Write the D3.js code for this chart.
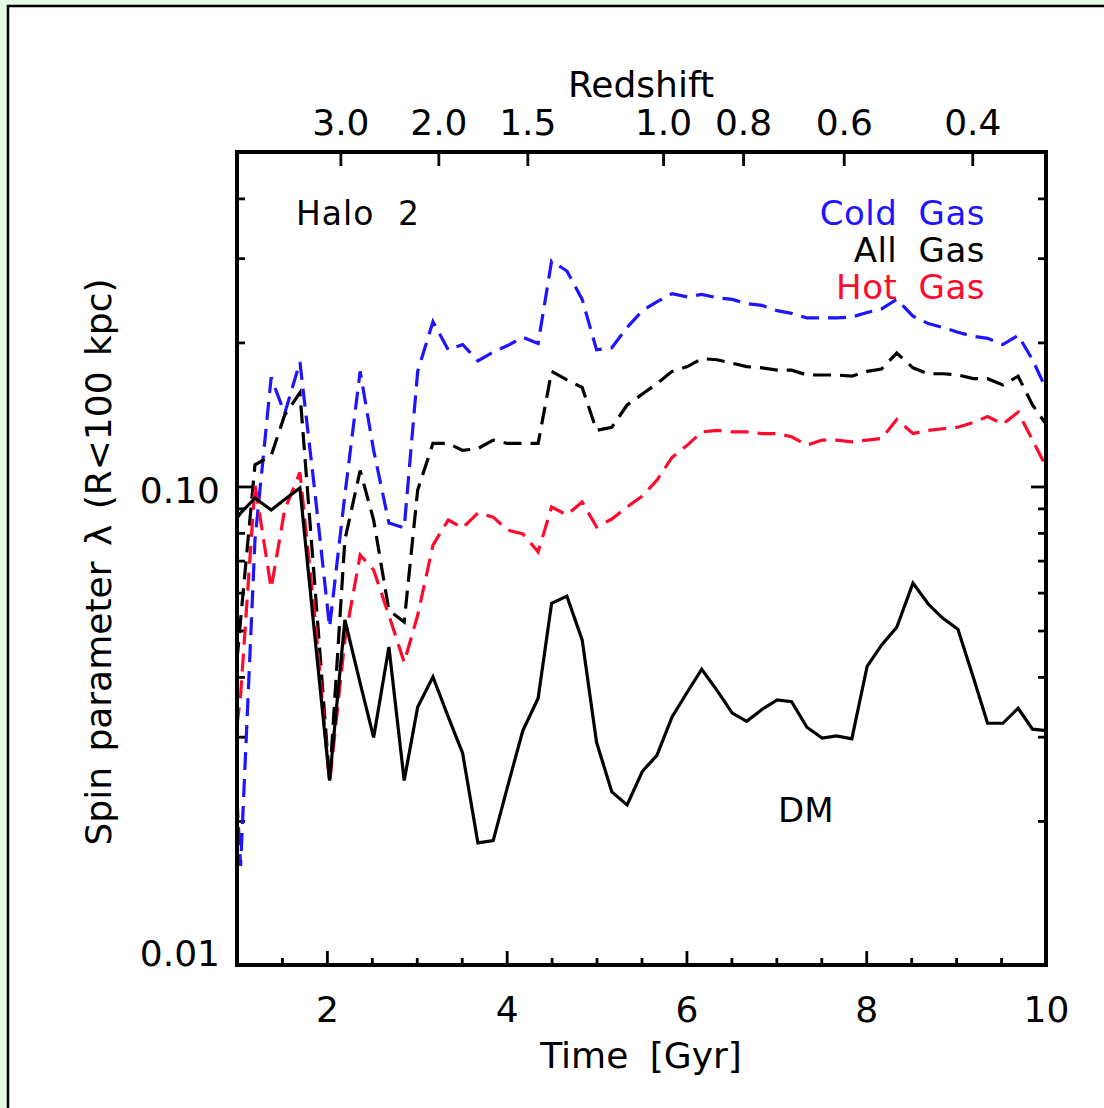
<!DOCTYPE html>
<html>
<head>
<meta charset="utf-8">
<script src="https://cdn.jsdelivr.net/npm/d3@7"></script>
<style>
  body { margin: 0; background: #e4fae4; }
  svg { display: block; font-family: "DejaVu Sans", sans-serif; }
</style>
</head>
<body>
<div id="chart"></div>
<script>
// snapshot times (Gyr) and spin parameter of each component
const times = [1.00, 1.04, 1.20, 1.38, 1.53, 1.70, 1.87, 2.03, 2.20, 2.37, 2.52, 2.69, 2.86, 3.01,
  3.18, 3.35, 3.51, 3.68, 3.85, 4.01, 4.18, 4.35, 4.50, 4.67, 4.84, 5.00, 5.17, 5.34, 5.51, 5.67,
  5.84, 6.01, 6.17, 6.34, 6.51, 6.67, 6.84, 7.01, 7.17, 7.34, 7.51, 7.67, 7.84, 8.01, 8.17, 8.34,
  8.52, 8.69, 8.85, 9.02, 9.19, 9.35, 9.52, 9.69, 9.85, 10.0];

const coldGas = [0.0221, 0.0161, 0.0773, 0.169, 0.142, 0.182, 0.0960, 0.0508, 0.0960, 0.174, 0.119,
  0.0839, 0.0819, 0.174, 0.221, 0.193, 0.198, 0.183, 0.191, 0.197, 0.205, 0.199, 0.296, 0.282, 0.246,
  0.193, 0.195, 0.215, 0.233, 0.243, 0.253, 0.249, 0.252, 0.248, 0.246, 0.241, 0.239, 0.233, 0.230,
  0.225, 0.225, 0.225, 0.226, 0.231, 0.235, 0.246, 0.227, 0.219, 0.215, 0.210, 0.206, 0.204, 0.198,
  0.207, 0.184, 0.160];

const allGas = [0.0434, 0.0526, 0.111, 0.116, 0.141, 0.157, 0.0608, 0.0243, 0.0773, 0.108, 0.0851,
  0.0551, 0.0521, 0.0983, 0.123, 0.123, 0.119, 0.120, 0.125, 0.123, 0.123, 0.123, 0.174, 0.167, 0.161,
  0.131, 0.133, 0.148, 0.156, 0.164, 0.174, 0.178, 0.185, 0.184, 0.181, 0.178, 0.177, 0.175, 0.175,
  0.171, 0.171, 0.171, 0.170, 0.174, 0.176, 0.190, 0.177, 0.172, 0.172, 0.171, 0.168, 0.168, 0.163,
  0.170, 0.148, 0.135];

const hotGas = [0.0317, 0.0366, 0.101, 0.0613, 0.0893, 0.107, 0.0526, 0.0240, 0.0478, 0.0719, 0.0669,
  0.0538, 0.0429, 0.0538, 0.0754, 0.0851, 0.0819, 0.0880, 0.0863, 0.0811, 0.0796, 0.0730, 0.0906,
  0.0872, 0.0928, 0.0823, 0.0855, 0.0906, 0.0955, 0.103, 0.115, 0.122, 0.130, 0.131, 0.130, 0.130,
  0.129, 0.129, 0.127, 0.122, 0.125, 0.125, 0.124, 0.125, 0.126, 0.138, 0.129, 0.131, 0.132, 0.133,
  0.136, 0.140, 0.135, 0.143, 0.125, 0.110];

const darkMatter = [0.0859, 0.0880, 0.0946, 0.0893, 0.0939, 0.0993, 0.0478, 0.0243, 0.0526, 0.0388,
  0.0299, 0.0462, 0.0243, 0.0346, 0.0400, 0.0330, 0.0277, 0.0180, 0.0182, 0.0236, 0.0309, 0.0361,
  0.0570, 0.0590, 0.0478, 0.0292, 0.0230, 0.0216, 0.0254, 0.0274, 0.0330, 0.0372, 0.0415, 0.0375,
  0.0336, 0.0323, 0.0342, 0.0358, 0.0355, 0.0314, 0.0298, 0.0301, 0.0297, 0.0421, 0.0466, 0.0508,
  0.0628, 0.0568, 0.0531, 0.0503, 0.0400, 0.0320, 0.0320, 0.0344, 0.0311, 0.0309];

// axes
const timeMajor = [2, 4, 6, 8, 10];
const timeMinor = [1.5, 2.5, 3, 3.5, 4.5, 5, 5.5, 6.5, 7, 7.5, 8.5, 9, 9.5];
const zLabels = ['3.0', '2.0', '1.5', '1.0', '0.8', '0.6', '0.4'];
const zTimes = [2.15, 3.24, 4.23, 5.74, 6.63, 7.75, 9.18];
const lamMajor = [0.01, 0.1];
const lamLabels = ['0.01', '0.10'];
const lamMinor = [0.02, 0.03, 0.04, 0.05, 0.06, 0.07, 0.08, 0.09, 0.2, 0.3, 0.4];

const series = [
  { name: 'Cold Gas', values: coldGas, color: '#1e14ff', dash: '18,9' },
  { name: 'All Gas', values: allGas, color: '#000000', dash: '18,9' },
  { name: 'Hot Gas', values: hotGas, color: '#ff0a2d', dash: '18,9' },
  { name: 'DM', values: darkMatter, color: '#000000', dash: null }
];

const W = 1104, H = 1108;
const plotLeft = 237, plotRight = 1046, plotTop = 152, plotBottom = 965;

const svg = d3.select('#chart').append('svg')
  .attr('width', W)
  .attr('height', H);

svg.append('rect')
  .attr('x', 8).attr('y', 6)
  .attr('width', W).attr('height', H)
  .attr('fill', '#fff')
  .attr('stroke', '#000')
  .attr('stroke-width', 2.5);

const x = d3.scaleLinear().domain([1, 10]).range([plotLeft, plotRight]);
const y = d3.scaleLog().domain([0.01, 0.5]).range([plotBottom, plotTop]);

function styleAxis(g) {
  g.select('.domain').remove();
  g.selectAll('line').attr('stroke', '#000').attr('stroke-width', 2.8);
  g.selectAll('text')
    .attr('fill', '#000')
    .attr('font-size', 36)
    .attr('font-family', '"DejaVu Sans", sans-serif');
}

// bottom axis: time
svg.append('g').attr('transform', `translate(0,${plotBottom})`)
  .call(d3.axisBottom(x).tickValues(timeMinor).tickSize(-7).tickFormat(''))
  .call(styleAxis);
svg.append('g').attr('transform', `translate(0,${plotBottom})`)
  .call(d3.axisBottom(x).tickValues(timeMajor).tickSize(-14).tickPadding(31).tickFormat(d3.format('d')))
  .call(styleAxis);

// top axis: redshift
svg.append('g').attr('transform', `translate(0,${plotTop})`)
  .call(d3.axisTop(x).tickValues(zTimes).tickSize(-14).tickPadding(17)
    .tickFormat((d, i) => zLabels[i]))
  .call(styleAxis);

// left and right axes: spin parameter
svg.append('g').attr('transform', `translate(${plotLeft},0)`)
  .call(d3.axisLeft(y).tickValues(lamMinor).tickSize(-8).tickFormat(''))
  .call(styleAxis);
svg.append('g').attr('transform', `translate(${plotLeft},0)`)
  .call(d3.axisLeft(y).tickValues(lamMajor).tickSize(-15).tickFormat(''))
  .call(styleAxis);
svg.append('g').attr('transform', `translate(${plotRight},0)`)
  .call(d3.axisRight(y).tickValues(lamMinor).tickSize(-8).tickFormat(''))
  .call(styleAxis);
svg.append('g').attr('transform', `translate(${plotRight},0)`)
  .call(d3.axisRight(y).tickValues(lamMajor).tickSize(-15).tickFormat(''))
  .call(styleAxis);

// IDL nudges the bottom label up so it stays inside the axis
const labelShift = [-12, 4];
svg.append('g').selectAll('text')
  .data(lamMajor)
  .join('text')
  .attr('x', plotLeft - 17)
  .attr('y', (d, i) => y(d) + labelShift[i])
  .attr('dy', '0.36em')
  .attr('text-anchor', 'end')
  .attr('font-size', 36)
  .text((d, i) => lamLabels[i]);

// data lines
const line = d3.line()
  .x((d, i) => x(times[i]))
  .y(d => y(d));

svg.append('g').selectAll('path')
  .data(series)
  .join('path')
  .attr('d', d => line(d.values))
  .attr('fill', 'none')
  .attr('stroke', d => d.color)
  .attr('stroke-width', 3.2)
  .attr('stroke-dasharray', d => d.dash)
  .attr('stroke-linejoin', 'miter');

// plot frame
svg.append('rect')
  .attr('x', plotLeft).attr('y', plotTop)
  .attr('width', plotRight - plotLeft).attr('height', plotBottom - plotTop)
  .attr('fill', 'none')
  .attr('stroke', '#000')
  .attr('stroke-width', 4);

// titles
svg.append('text')
  .attr('x', 641).attr('y', 97)
  .attr('text-anchor', 'middle')
  .attr('font-size', 36)
  .text('Redshift');

svg.append('text')
  .attr('x', 641).attr('y', 1068)
  .attr('text-anchor', 'middle')
  .attr('font-size', 36)
  .style('word-spacing', '10px')
  .text('Time [Gyr]');

svg.append('text')
  .attr('transform', 'translate(111,562) rotate(-90)')
  .attr('text-anchor', 'middle')
  .attr('font-size', 36)
  .style('word-spacing', '4px')
  .text('Spin parameter \u03bb (R<100 kpc)');

// annotations
svg.append('text')
  .attr('x', 296).attr('y', 225)
  .attr('font-size', 33)
  .style('word-spacing', '12px')
  .style('letter-spacing', '1px')
  .text('Halo 2');

svg.append('g').selectAll('text')
  .data(series.slice(0, 3))
  .join('text')
  .attr('x', 985)
  .attr('y', (d, i) => 225 + i * 37)
  .attr('text-anchor', 'end')
  .attr('font-size', 34)
  .attr('fill', d => d.color)
  .style('word-spacing', '10px')
  .style('letter-spacing', '0.5px')
  .text(d => d.name);

svg.append('text')
  .attr('x', 778).attr('y', 822)
  .attr('font-size', 34)
  .text('DM');
</script>
</body>
</html>
